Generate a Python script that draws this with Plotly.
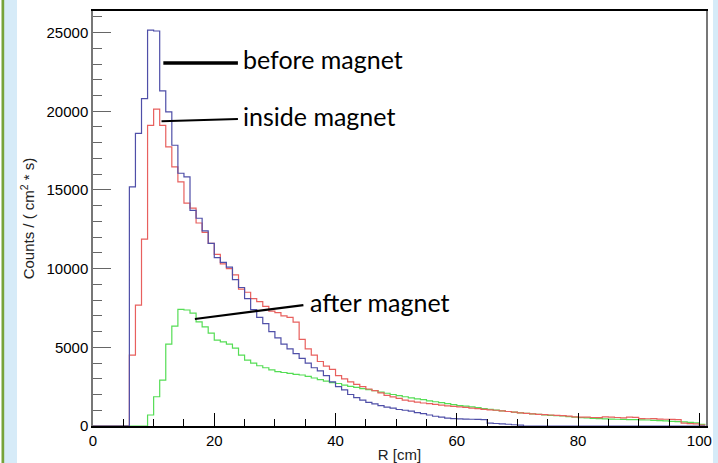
import plotly.graph_objects as go

# Radial distribution of particle flux, 1 cm bins from R = 0 to 101 cm
bin_width = 1.0
n_bins = 101

before_magnet = [
    0, 0, 0, 0, 0, 0, 15200, 18600, 20800, 25150,
    25100, 21300, 19960, 17840, 16060, 15830, 13700, 13200, 12400, 11600,
    10700, 10400, 10100, 9300, 8800, 8100, 7400, 6900, 6500, 6000,
    5600, 5200, 4900, 4600, 4300, 4000, 3700, 3500, 3200, 2800,
    2500, 2300, 2000, 1800, 1650, 1500, 1400, 1300, 1200, 1130,
    1050, 1000, 950, 850, 780, 700, 620, 560, 500, 470,
    450, 440, 430, 420, 400, 180, 160, 140, 110, 80,
    50, 0, 0, 0, 0, 0, 0, 0, 0, 0,
    0, 0, 0, 0, 0, 0, 0, 0, 0, 0,
    0, 0, 0, 0, 0, 0, 0, 0, 0, 0,
    0,
]

inside_magnet = [
    0, 0, 0, 0, 0, 0, 4500, 7680, 11870, 19100,
    20130, 19100, 17740, 16470, 15510, 14160, 13840, 12900, 12300, 11600,
    10900, 10300, 10000, 9600, 8700, 8500, 8100, 7900, 7600, 7300,
    7200, 7000, 6900, 6600, 5500, 4900, 4500, 4100, 3800, 3600,
    3200, 3000, 2800, 2650, 2500, 2350, 2250, 2100, 1950, 1850,
    1750, 1650, 1580, 1520, 1460, 1420, 1380, 1330, 1280, 1250,
    1220, 1180, 1130, 1100, 1060, 1030, 1000, 960, 920, 880,
    830, 800, 770, 740, 720, 700, 680, 660, 630, 580,
    560, 560, 540, 530, 580, 560, 540, 520, 560, 550,
    470, 460, 470, 440, 430, 420, 400, 180, 150, 140,
    60,
]

after_magnet = [
    0, 0, 0, 0, 0, 0, 0, 0, 0, 700,
    1860, 2920, 5200, 6350, 7410, 7370, 7170, 6620, 6300, 5900,
    5460, 5350, 5200, 4950, 4500, 4190, 4000, 3830, 3700, 3560,
    3450, 3400, 3350, 3280, 3240, 3150, 3050, 2950, 2850, 2750,
    2700, 2600, 2520, 2450, 2380, 2310, 2250, 2150, 2080, 2000,
    1930, 1860, 1790, 1720, 1680, 1600, 1540, 1480, 1420, 1360,
    1300, 1260, 1220, 1170, 1110, 1060, 1010, 960, 920, 880,
    840, 800, 770, 740, 710, 680, 660, 640, 600, 560,
    530, 510, 490, 470, 450, 440, 430, 420, 410, 400,
    390, 380, 360, 340, 320, 300, 280, 260, 230, 200,
    100,
]

x_range = [0, 101.1]
y_range = [0, 26370]

series = [
    ("after magnet", after_magnet, "#55dd55"),
    ("inside magnet", inside_magnet, "#e8605e"),
    ("before magnet", before_magnet, "#4f4fa8"),
]

edges = [i * bin_width for i in range(n_bins + 1)]

fig = go.Figure()
for name, vals, color in series:
    # step outline: each bin value held across the bin, closed at the last edge
    fig.add_trace(go.Scatter(
        x=edges,
        y=list(vals) + [vals[-1]],
        mode="lines",
        line=dict(shape="hv", color=color, width=1.2),
        name=name,
        showlegend=False,
        hoverinfo="skip",
    ))

W, H = 718, 463
ml, mr, mt, mb = 93, 12, 11, 37
pw = W - ml - mr


def px_to_paper(px):
    return (px - ml) / pw


# page decoration on the left and right edges
fig.add_shape(type="rect", xref="paper", yref="paper",
              x0=px_to_paper(4), x1=px_to_paper(17), y0=-0.2, y1=1.1,
              fillcolor="#d6ebf8", line_width=0, layer="below")
fig.add_shape(type="rect", xref="paper", yref="paper",
              x0=px_to_paper(713), x1=px_to_paper(720), y0=-0.2, y1=1.1,
              fillcolor="#d6ebf8", line_width=0, layer="below")
fig.add_shape(type="rect", xref="paper", yref="paper",
              x0=px_to_paper(1.5), x1=px_to_paper(4.2), y0=-0.2, y1=1.1,
              fillcolor="#76a33a", line_width=0, layer="below")

# label leader lines
fig.add_shape(type="line", x0=11.6, y0=23070, x1=23.9, y1=23070,
              line=dict(color="black", width=3.5))
fig.add_shape(type="line", x0=11.3, y0=19370, x1=23.9, y1=19500,
              line=dict(color="black", width=2))
fig.add_shape(type="line", x0=16.8, y0=6800, x1=34.7, y1=7680,
              line=dict(color="black", width=2.2))

label_font = dict(family="Lato, Open Sans, sans-serif", size=25, color="black")
for text, xv, yv in [("before magnet", 24.4, 23300),
                     ("inside magnet", 24.4, 19700),
                     ("after magnet", 35.4, 7900)]:
    fig.add_annotation(x=xv, y=yv, text=text, showarrow=False,
                       xanchor="left", yanchor="middle", font=label_font)

axis_font = dict(family="Liberation Sans, Arial, sans-serif", size=15, color="black")
title_font = dict(family="Liberation Sans, Arial, sans-serif", size=15, color="#222222")

fig.update_layout(
    width=W, height=H,
    margin=dict(l=ml, r=mr, t=mt, b=mb, autoexpand=False),
    paper_bgcolor="white",
    plot_bgcolor="white",
    xaxis=dict(
        range=x_range, showgrid=False, zeroline=False, automargin=False,
        showline=True, linecolor="black", linewidth=1.5, mirror=True,
        ticks="inside", ticklen=13, tickcolor="black", tickwidth=1,
        tick0=0, dtick=20, tickfont=axis_font, tickformat="d",
        minor=dict(ticks="inside", ticklen=7, dtick=5, tickcolor="black"),
        title=dict(text="R [cm]", font=title_font, standoff=7),
    ),
    yaxis=dict(
        range=y_range, showgrid=False, zeroline=False, automargin=False,
        showline=True, linecolor="#777777", linewidth=1.5, mirror=True,
        ticks="inside", ticklen=18, tickcolor="#666666", tickwidth=1,
        tick0=0, dtick=5000, tickfont=axis_font, tickformat="d",
        minor=dict(ticks="inside", ticklen=9, dtick=1000, tickcolor="#666666"),
        title=dict(text="Counts / ( cm<sup>2</sup> * s)", font=title_font, standoff=8),
    ),
)

fig.write_html("out.html")
